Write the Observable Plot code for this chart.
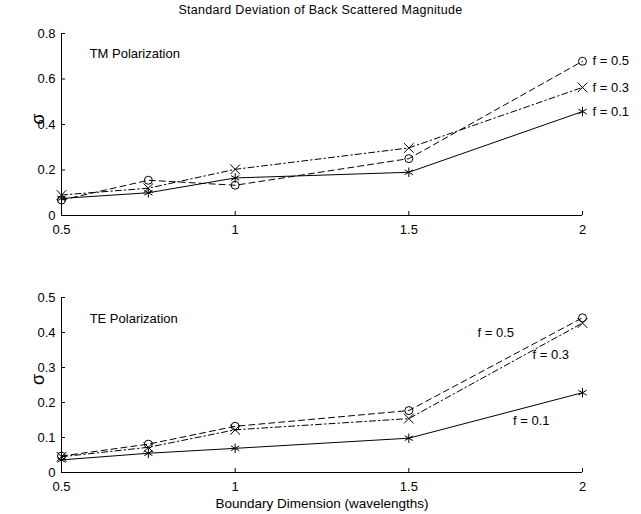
<!DOCTYPE html>
<html>
<head>
<meta charset="utf-8">
<script src="https://cdn.jsdelivr.net/npm/d3@7"></script>
<script src="https://cdn.jsdelivr.net/npm/@observablehq/plot@0.6"></script>
<style>
  body { margin: 0; background: #fff; }
  #wrap { position: relative; width: 641px; height: 514px; font-family: "Liberation Sans", Arial, Helvetica, sans-serif; }
  #title { position: absolute; top: 3px; left: 0; width: 641px; text-align: center; font-size: 12.5px; letter-spacing: 0.3px; color: #000; }
  .panel { position: absolute; left: 0; }
</style>
</head>
<body>
<div id="wrap">
  <div id="title">Standard Deviation of Back Scattered Magnitude</div>
  <div id="p1" class="panel" style="top:0px"></div>
  <div id="p2" class="panel" style="top:260px"></div>
</div>
<script>
const xs = [0.5, 0.75, 1, 1.5, 2];
const xTicks = [0.5, 1, 1.5, 2];

// TM polarization
const tm_f01 = [0.075, 0.100, 0.165, 0.190, 0.457];
const tm_f03 = [0.090, 0.120, 0.203, 0.297, 0.563];
const tm_f05 = [0.068, 0.155, 0.133, 0.250, 0.678];
const tmTicks = [0, 0.2, 0.4, 0.6, 0.8];

// TE polarization
const te_f01 = [0.036, 0.055, 0.069, 0.098, 0.228];
const te_f03 = [0.045, 0.072, 0.122, 0.154, 0.427];
const te_f05 = [0.047, 0.081, 0.132, 0.177, 0.442];
const teTicks = [0, 0.1, 0.2, 0.3, 0.4, 0.5];

const seriesNames = ["f = 0.1", "f = 0.3", "f = 0.5"];
const symbols = ["asterisk", "times", "circle"];
const dashes = [null, "6,3,1.5,3", "6,4"];

// label positions (data coordinates)
const teLabelX = [1.80, 1.856, 1.698];
const teLabelY = [0.149, 0.337, 0.40];

const FONT = "'Liberation Sans', Arial, Helvetica, sans-serif";

function rows(arrs) {
  const out = [];
  arrs.forEach((a, s) => a.forEach((v, i) => out.push({x: xs[i], y: v, s})));
  return out;
}

function panel({data, yDomain, yTicks, title, titleY, labels, labelDx, xLabel, marginBottom, marginTop, height}) {
  const d = rows(data);
  const marks = [
    Plot.ruleX([0.5], {y1: yDomain[0], y2: yDomain[1], stroke: "#000", strokeWidth: 1}),
    Plot.ruleY([yDomain[0]], {x1: 0.5, x2: 2, stroke: "#000", strokeWidth: 1}),
    Plot.axisY(yTicks, {tickSize: -4, tickPadding: 10, fontSize: 13, tickFormat: d3.format("~g"), label: null}),
    Plot.axisX(xTicks, {tickSize: -4, tickPadding: 13, fontSize: 13, tickFormat: d3.format("~g"), label: null}),
    Plot.text(["σ"], {frameAnchor: "left", dx: -23, rotate: -90, fontSize: 18, fill: "#000"})
  ];
  if (xLabel) marks.push(Plot.text([xLabel], {frameAnchor: "bottom", dy: 35, fontSize: 13.5, fill: "#000"}));
  [0, 1, 2].forEach(s => {
    const sd = d.filter(r => r.s === s);
    marks.push(Plot.line(sd, {x: "x", y: "y", stroke: "#000", strokeWidth: 1, strokeDasharray: dashes[s]}));
    marks.push(Plot.dot(sd, {x: "x", y: "y", symbol: () => symbols[s], r: s === 2 ? 4 : 4.5, stroke: "#000", strokeWidth: 1, fill: "none"}));
  });
  marks.push(Plot.text([title], {x: 0.581, y: titleY, text: t => t, textAnchor: "start", fontSize: 13, fill: "#000"}));
  marks.push(Plot.text(labels, {x: "x", y: "y", text: "t", textAnchor: "start", dx: labelDx, fontSize: 13, fill: "#000"}));
  return Plot.plot({
    width: 641, height, marginLeft: 61, marginRight: 59, marginTop, marginBottom,
    style: {fontFamily: FONT, color: "#000", background: "transparent", overflow: "visible"},
    x: {domain: [0.5, 2], axis: null},
    y: {domain: yDomain, axis: null},
    marks
  });
}

const tmLabels = seriesNames.map((t, i) => ({t, x: 2, y: [tm_f01, tm_f03, tm_f05][i][4]}));
const teLabels = seriesNames.map((t, i) => ({t, x: teLabelX[i], y: teLabelY[i]}));

document.getElementById("p1").append(panel({
  data: [tm_f01, tm_f03, tm_f05], yDomain: [0, 0.8], yTicks: tmTicks,
  title: "TM Polarization", titleY: 0.71, labels: tmLabels, labelDx: 10, xLabel: null,
  marginTop: 33, marginBottom: 30, height: 245
}));
document.getElementById("p2").append(panel({
  data: [te_f01, te_f03, te_f05], yDomain: [0, 0.5], yTicks: teTicks,
  title: "TE Polarization", titleY: 0.44, labels: teLabels, labelDx: 0, xLabel: "Boundary Dimension (wavelengths)",
  marginTop: 37, marginBottom: 42, height: 254
}));
</script>
</body>
</html>
